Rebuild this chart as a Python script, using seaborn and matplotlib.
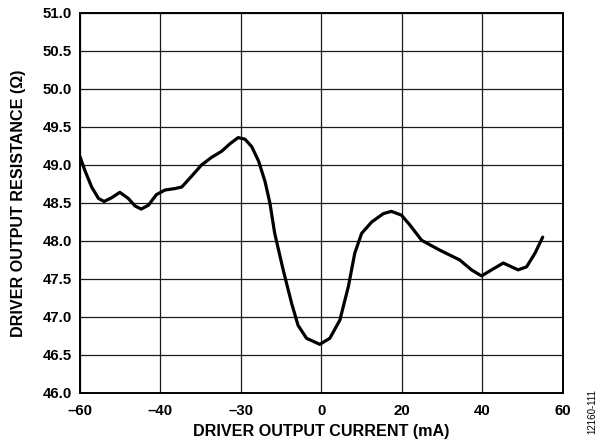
import matplotlib
matplotlib.use("Agg")
import matplotlib.pyplot as plt
import seaborn as sns
import pandas as pd

# values
current_ma = [-60.0, -58.8, -57.1, -55.4, -54.0, -52.1, -50.1, -48.0, -46.3, -44.8,
              -43.0, -41.0, -38.9, -36.4, -34.7, -32.3, -29.8, -27.3, -24.8, -22.7,
              -20.7, -19.0, -17.3, -15.6, -14.0, -12.8, -11.6, -9.5, -7.4, -5.8,
              -3.7, -0.4, 2.1, 4.6, 6.7, 8.3, 10.0, 12.5, 15.4, 17.4,
              19.9, 22.0, 24.9, 29.4, 34.4, 37.3, 39.8, 42.3, 45.2, 48.9,
              51.0, 53.1, 55.0]
resistance = [49.11, 48.93, 48.71, 48.56, 48.52, 48.57, 48.64, 48.56, 48.46, 48.42,
              48.47, 48.61, 48.67, 48.69, 48.71, 48.85, 49.00, 49.10, 49.18, 49.28,
              49.36, 49.34, 49.24, 49.05, 48.78, 48.50, 48.10, 47.62, 47.18, 46.89,
              46.72, 46.64, 46.72, 46.96, 47.40, 47.84, 48.10, 48.25, 48.36, 48.39,
              48.34, 48.21, 48.01, 47.88, 47.75, 47.62, 47.54, 47.62, 47.71, 47.62,
              47.66, 47.84, 48.05]

x_ticks = [-60, -40, -20, 0, 20, 40, 60]
x_tick_labels = ["\u201360", "\u201340", "\u201330", "0", "20", "40", "60"]
y_ticks = [46.0, 46.5, 47.0, 47.5, 48.0, 48.5, 49.0, 49.5, 50.0, 50.5, 51.0]

df = pd.DataFrame({"current": current_ma, "resistance": resistance})

sns.set_style("white")
plt.rcParams["font.family"] = ["Liberation Sans", "DejaVu Sans"]
plt.rcParams["text.color"] = "black"
plt.rcParams["axes.labelcolor"] = "black"
plt.rcParams["xtick.color"] = "black"
plt.rcParams["ytick.color"] = "black"

fig = plt.figure(figsize=(6.0, 4.43), dpi=100)
ax = fig.add_axes([0.1333, 0.1129, 0.8047, 0.8578])

sns.lineplot(data=df, x="current", y="resistance", ax=ax, color="black",
             linewidth=2.3, sort=False, solid_joinstyle="round", solid_capstyle="round")

ax.set_xlim(-60, 60)
ax.set_ylim(46.0, 51.0)
ax.set_xticks(x_ticks)
ax.set_xticklabels(x_tick_labels)
ax.set_yticks(y_ticks)
ax.set_yticklabels([f"{v:.1f}" for v in y_ticks])
ax.grid(True, color="#1a1a1a", linewidth=0.9)
ax.tick_params(axis="x", length=0, pad=8, labelsize=10.8)
ax.tick_params(axis="y", length=0, pad=6, labelsize=10.8)
for lab in ax.get_xticklabels() + ax.get_yticklabels():
    lab.set_fontweight("bold")
for sp in ax.spines.values():
    sp.set_color("black")
    sp.set_linewidth(1.4)

ax.set_xlabel("DRIVER OUTPUT CURRENT (mA)", fontsize=11.6, fontweight="bold", labelpad=4)
ax.set_ylabel("DRIVER OUTPUT RESISTANCE (\u03a9)", fontsize=11.6, fontweight="bold", labelpad=12)

fig.text(0.987, 0.02, "12160-111", rotation=90, fontsize=7, ha="center", va="bottom")

fig.savefig("out.png", dpi=100)
